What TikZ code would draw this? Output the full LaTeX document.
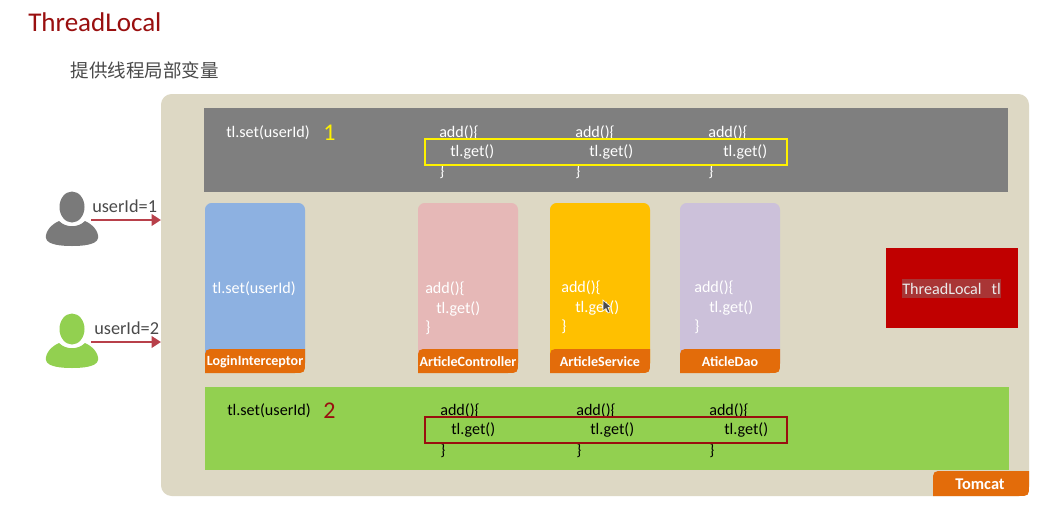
\documentclass[tikz,border=0pt]{standalone}
\usepackage{fontspec}
\setmainfont{Carlito}
\newfontfamily\cjkfont{Noto Sans CJK SC}
\usetikzlibrary{arrows.meta}
\definecolor{tomcatbg}{HTML}{DDD8C4}
\definecolor{threadgray}{HTML}{7F7F7F}
\definecolor{threadgreen}{HTML}{92D050}
\definecolor{tabfill}{HTML}{E36C0A}
\definecolor{loginblue}{HTML}{8DB1E1}
\definecolor{ctrlpink}{HTML}{E6B8B7}
\definecolor{svcyellow}{HTML}{FFC000}
\definecolor{daopurple}{HTML}{CCC1DA}
\definecolor{tlred}{HTML}{C00000}
\definecolor{tlmark}{HTML}{A93535}
\definecolor{darkred}{HTML}{990F0F}
\definecolor{arrowred}{HTML}{B8404A}
\definecolor{usergray}{HTML}{7A7A7A}
\definecolor{subgray}{HTML}{4A4A4A}
\newcommand{\tabshape}[4]{\fill[tabfill] (#1,#4) -- (#1,{#2+11}) .. controls (#1,#2) .. ({#1+11},#2) -- (#3,#2) -- (#3,{#4-11}) .. controls (#3,#4) .. ({#3-11},#4) -- cycle;}
\tikzset{
  txt/.style={anchor=west,inner sep=0pt,yshift=-0.75pt,font=\fontsize{12.1pt}{14pt}\selectfont},
  tabtxt/.style={inner sep=0pt,text=white,font=\fontsize{10.55pt}{12pt}\selectfont\bfseries},
  sendarrow/.style={-{Triangle[length=7pt,width=8.5pt]},line width=2.2pt,arrowred},
  pics/person/.style={code={
    \fill[#1] (0,0) ellipse (12.5 and 15.5);
    \fill[#1] (-13,14) .. controls (-6,21) and (6,21) .. (13,14)
      .. controls (20,17) and (27,24) .. (26,31)
      .. controls (25,38) and (10,39) .. (0,39)
      .. controls (-10,39) and (-25,38) .. (-26,31)
      .. controls (-27,24) and (-20,17) .. (-13,14) -- cycle;
  }}
}
\begin{document}
\begin{tikzpicture}[x=0.75pt,y=-0.75pt]
\useasboundingbox (0,0) rectangle (1046,504);
\fill[white] (0,0) rectangle (1046,504);

\node[txt,text=darkred,font=\fontsize{20.3pt}{23pt}\selectfont] (title) at (28,21) {ThreadLocal};
\node[txt,text=subgray,font=\cjkfont\fontsize{13.9pt}{16pt}\selectfont] (subtitle) at (70.5,69) {提供线程局部变量};

\fill[tomcatbg,rounded corners=8pt] (161,94) rectangle (1029,496);
\fill[threadgray] (204,108) rectangle (1008,192);
\fill[threadgreen] (205,387) rectangle (1009,470);

\fill[loginblue,rounded corners=5pt] (205,203) rectangle (305,370);
\fill[ctrlpink,rounded corners=5pt] (418,203) rectangle (518,370);
\fill[svcyellow,rounded corners=5pt] (550,203) rectangle (650,370);
\fill[daopurple,rounded corners=5pt] (680,203) rectangle (780,370);

\tabshape{205}{349}{305}{373}
\tabshape{418}{349}{518}{373}
\tabshape{550}{349}{650}{373}
\tabshape{680}{349}{780}{373}
\tabshape{933}{471}{1029}{496}

\node[tabtxt] (login) at (255,362) {LoginInterceptor};
\node[tabtxt] (controller) at (468,362) {ArticleController};
\node[tabtxt] (service) at (600,362) {ArticleService};
\node[tabtxt] (dao) at (730,362) {AticleDao};
\node[tabtxt,font=\fontsize{12.3pt}{14pt}\selectfont\bfseries] (tomcat) at (980,484) {Tomcat};

\fill[tlred] (886,248) rectangle (1018,328);
\fill[tlmark] (902,279) rectangle (1001,298);
\node[txt,text=white!92!black] (threadlocal) at (902,288) {ThreadLocal\hspace{7.5pt}tl};

\node[txt,text=white] (setgray) at (226,132) {tl.set(userId)};
\node[txt,text=yellow,font=\fontsize{18pt}{20pt}\selectfont] (one) at (323,132) {1};
\node[txt,text=white] (setblue) at (212,288) {tl.set(userId)};
\node[txt] (setgreen) at (227,410) {tl.set(userId)};
\node[txt,text=darkred,font=\fontsize{18pt}{20pt}\selectfont] (two) at (323,410) {2};

\node[txt,text=white] (addgraya) at (439,132) {add()\{};
\node[txt,text=white] (getgraya) at (450,151) {tl.get()};
\node[txt,text=white] (endgraya) at (439,171) {\}};
\node[txt,text=white] (addgrayb) at (575,132) {add()\{};
\node[txt,text=white] (getgrayb) at (589,151) {tl.get()};
\node[txt,text=white] (endgrayb) at (575,171) {\}};
\node[txt,text=white] (addgrayc) at (708,132) {add()\{};
\node[txt,text=white] (getgrayc) at (723,151) {tl.get()};
\node[txt,text=white] (endgrayc) at (708,171) {\}};
\draw[yellow,line width=2.2pt] (425,139) rectangle (787,165);

\node[txt,text=white] (addpink) at (425,288) {add()\{};
\node[txt,text=white] (getpink) at (436,308) {tl.get()};
\node[txt,text=white] (endpink) at (425,327) {\}};
\node[txt,text=white] (addyellow) at (561,287) {add()\{};
\node[txt,text=white] (getyellow) at (575,307) {tl.get()};
\node[txt,text=white] (endyellow) at (561,326) {\}};
\node[txt,text=white] (addpurple) at (694,287) {add()\{};
\node[txt,text=white] (getpurple) at (709,307) {tl.get()};
\node[txt,text=white] (endpurple) at (694,326) {\}};

\node[txt] (addgreena) at (440,410) {add()\{};
\node[txt] (getgreena) at (451,429) {tl.get()};
\node[txt] (endgreena) at (440,450) {\}};
\node[txt] (addgreenb) at (576,410) {add()\{};
\node[txt] (getgreenb) at (590,429) {tl.get()};
\node[txt] (endgreenb) at (576,450) {\}};
\node[txt] (addgreenc) at (709,410) {add()\{};
\node[txt] (getgreenc) at (724,429) {tl.get()};
\node[txt] (endgreenc) at (709,450) {\}};
\draw[darkred,line width=2.2pt] (425,417) rectangle (787,443);

\fill[black!70,draw=white,line width=0.4pt] (603,300) -- (603,311) -- (606,308.5) -- (608,313) -- (610,312) -- (608,307.5) -- (611,307) -- cycle;

\pic (grayuser) at (72,207) {person=usergray};
\pic (greenuser) at (72,329) {person=threadgreen};

\node[txt,text=subgray,font=\fontsize{13.7pt}{16pt}\selectfont] (idone) at (92,205) {userId=1};
\node[txt,text=subgray,font=\fontsize{13.7pt}{16pt}\selectfont] (idtwo) at (94,327) {userId=2};

\coordinate (fromone) at (91,220);
\coordinate (toone) at (161,220);
\coordinate (fromtwo) at (91,342);
\coordinate (totwo) at (161,342);
\draw[sendarrow] (fromone) -- (toone);
\draw[sendarrow] (fromtwo) -- (totwo);
\end{tikzpicture}
\end{document}
